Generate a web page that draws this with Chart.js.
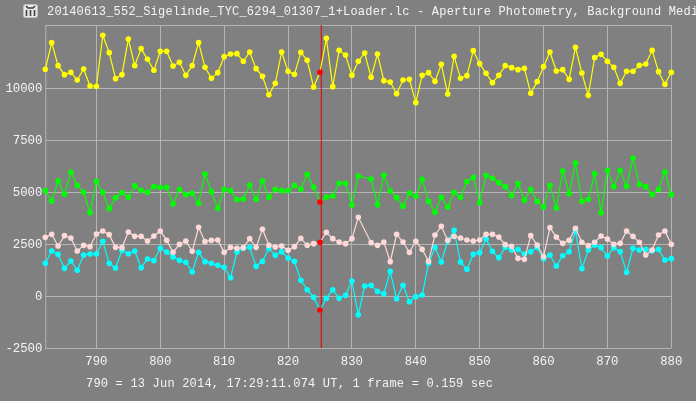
<!DOCTYPE html>
<html>
<head>
<meta charset="utf-8">
<title>Aperture Photometry</title>
<script src="https://cdn.jsdelivr.net/npm/chart.js@4/dist/chart.umd.min.js"></script>
<style>
    html, body { margin: 0; padding: 0; background: #808080; overflow: hidden; }
    #wrap { position: relative; width: 696px; height: 401px; overflow: hidden; }
    #lightcurve { position: absolute; left: 0; top: 0; }
    .label {
        position: absolute;
        color: #f4f4f4;
        font: 12px "Liberation Mono", monospace;
        letter-spacing: 0.2px;
        white-space: nowrap;
        line-height: 14px;
    }
    #plotTitle { left: 47px; top: 5px; }
    #plotFooter { left: 86px; top: 377px; }
    #icon { position: absolute; left: 23px; top: 4px; }
</style>
</head>
<body>
<div id="wrap">
    <canvas id="lightcurve" width="696" height="401"></canvas>
    <svg id="icon" width="15" height="14" viewBox="0 0 15 14">
        <rect x="0.5" y="0.5" width="14" height="13" rx="2" fill="#e8e8e8" stroke="#c0c0c0"/>
        <path d="M3 2 L5 4 L10 4 L12 2 M3.5 6 L3.5 12 M7.5 6 L7.5 12 M11.5 6 L11.5 12" stroke="#404040" stroke-width="1.6" fill="none"/>
    </svg>
    <div id="plotTitle" class="label">20140613_552_Sigelinde_TYC_6294_01307_1+Loader.lc - Aperture Photometry, Background Medi</div>
    <div id="plotFooter" class="label">790 = 13 Jun 2014, 17:29:11.074 UT, 1 frame = 0.159 sec</div>
</div>
<script>
// First frame of every series, the values are one per frame from here
var firstFrame = 782;
var cursorFrame = 825;

// Target star + comparison star
var yellow = [10912, 12194, 11088, 10655, 10767, 10399, 10928, 10110, 10094, 12547,
    11713, 10463, 10655, 12370, 11088, 11906, 11393, 10864, 11777, 11777,
    11072, 11248, 10623, 11088, 12194, 11008, 10479, 10751, 11521, 11649,
    11665, 11296, 11745, 10944, 10575, 9693, 10238, 11745, 10816, 10671,
    11729, 11345, 10062, 10767, 12403, 10078, 11825, 11601, 10623, 11296,
    11697, 10527, 11649, 10367, 10303, 9742, 10399, 10431, 9309, 10623,
    10751, 10335, 11152, 9726, 11537, 10479, 10607, 11809, 11184, 10719,
    10271, 10623, 11088, 10992, 10896, 10960, 9758, 10319, 11040, 11745,
    10832, 10896, 10431, 11970, 10735, 9661, 11473, 11633, 11296, 11008,
    10238, 10816, 10816, 11104, 11168, 11825, 10800, 10190, 10767];

var green = [5078, 4581, 5543, 4902, 5960, 5335, 4998, 4020, 5527, 4998,
    4213, 4742, 4982, 4758, 5319, 5094, 4998, 5271, 5239, 5239,
    4437, 5142, 4886, 4950, 4469, 5880, 5030, 4229, 5142, 5078,
    4646, 4678, 5351, 4662, 5543, 4758, 5142, 5078, 5078, 5335,
    5142, 5864, 5255, 4533, 4774, 4822, 5431, 5431, 4389, 5784,
    null, 5639, 4405, 5832, 5062, 4742, 4325, 4966, 4806, 5623,
    4565, 4036, 4758, 4293, 4998, 4758, 5511, 5720, 4501, 5816,
    5671, 5463, 5271, 4838, 5415, 4613, 5142, 4565, 4293, 5335,
    4245, 6024, 4934, 6409, 4565, 4662, 5896, 4020, 6056, 5271,
    6056, 5287, 6649, 5383, 5271, 4886, 5142, 5976, 4886];

var pink = [2835, 2979, 2418, 2915, 2803, 2178, 2450, 2386, 2995, 3140,
    2963, 2354, 2338, 3091, 2883, 2883, 2659, 2899, 3140, 2691,
    2114, 2498, 2659, 2162, 3316, 2627, 2691, 2707, 2114, 2354,
    2306, 2338, 2771, 2354, 3220, 2450, 2370, 2418, 2210, 2386,
    2787, 2450, 2530, 2595, 3075, 2771, 2611, 2530, 2771, 3797,
    null, 2579, 2450, 2611, 1665, 2979, 2611, 2114, 2643, 2258,
    1681, 2947, 3364, 2691, 2883, 2803, 2707, 2659, 2707, 2979,
    2979, 2851, 2482, 2402, 1825, 1777, 2915, 2466, 1905, 3300,
    2851, 2546, 2691, 3268, 2595, 2434, 2595, 2899, 2755, 2498,
    2546, 3140, 2883, 2595, 1985, 2226, 2947, 3140, 2498];

var cyan = [1585, 2178, 2017, 1344, 1697, 1248, 1985, 2033, 2033, 2643,
    1585, 1360, 2210, 2049, 2178, 1376, 1793, 1713, 2306, 2130,
    1889, 1729, 1633, 1168, 2114, 1665, 1585, 1488, 1392, 895,
    2130, 2306, 2354, 1440, 1681, 2306, 1969, 2146, 1841, 1681,
    767, 318, -50, -660, -99, 318, -99, 46, 735, -884,
    495, 527, 238, 126, 1200, -115, 527, -259, -18, 62,
    1585, 2354, 1649, 2659, 3172, 1649, 1296, 2017, 2098, 2755,
    2162, 1857, 2354, 2226, 2258, 2033, 2146, 2354, 1809, 1985,
    1456, 1953, 2146, 3140, 1328, 2226, 2466, 2338, 1937, 2338,
    2146, 1152, 2306, 2226, 2258, 2178, 2258, 1745, 1809];

var yMin = -2500;
var yMax = 13043;
var yTicks = [-2500, 0, 2500, 5000, 7500, 10000];

function makeSeries(values, color, order) {
    return {
        label: color,
        data: values.map(function (v, i) { return { x: firstFrame + i, y: v }; }),
        borderColor: color,
        borderWidth: 1.2,
        pointRadius: 2.8,
        pointHoverRadius: 2.8,
        pointBorderWidth: 0,
        pointBackgroundColor: function (ctx) {
            // the cursor frame is marked in red on every curve
            return ctx.raw && ctx.raw.x === cursorFrame ? '#ff0000' : color;
        },
        spanGaps: true,
        tension: 0,
        clip: false,
        order: order
    };
}

// the top line of the frame has no tick to hang on
var frameLine = {
    id: 'frameLine',
    beforeDatasetsDraw: function (chart) {
        var a = chart.chartArea, c = chart.ctx;
        c.save();
        c.strokeStyle = '#b4b4b4';
        c.lineWidth = 1;
        c.beginPath();
        c.moveTo(a.left, a.top + 0.5);
        c.lineTo(a.right, a.top + 0.5);
        c.moveTo(a.left + 0.5, a.top);
        c.lineTo(a.left + 0.5, a.bottom);
        c.stroke();
        c.restore();
    }
};

var tickFont = { family: '"Liberation Mono", monospace', size: 12.3 };

new Chart(document.getElementById('lightcurve'), {
    type: 'line',
    data: {
        datasets: [
            makeSeries(yellow, '#ffff00', 1),
            makeSeries(green, '#00ff00', 2),
            makeSeries(pink, '#ffd8d8', 3),
            makeSeries(cyan, '#00ffff', 4),
            {
                label: 'cursor',
                data: [{ x: 825.2, y: yMin }, { x: 825.2, y: yMax }],
                borderColor: '#e00000',
                borderWidth: 1,
                pointRadius: 0,
                order: 5
            }
        ]
    },
    options: {
        responsive: false,
        animation: false,
        devicePixelRatio: 1,
        layout: { padding: { left: 0, right: 24.7, top: 25, bottom: 0 } },
        plugins: { legend: { display: false }, tooltip: { enabled: false } },
        scales: {
            x: {
                type: 'linear',
                min: firstFrame,
                max: 880,
                afterFit: function (scale) { scale.height = 52.7; },
                grid: { color: '#b4b4b4', lineWidth: 1, drawTicks: false },
                border: { display: false },
                ticks: {
                    stepSize: 10,
                    includeBounds: false,
                    color: '#f4f4f4',
                    font: tickFont,
                    padding: 6,
                    maxRotation: 0,
                    callback: function (v) { return String(v); }
                }
            },
            y: {
                min: yMin,
                max: yMax,
                afterBuildTicks: function (scale) {
                    scale.ticks = yTicks.map(function (v) { return { value: v }; });
                },
                afterFit: function (scale) { scale.width = 45.3; },
                grid: { color: '#b4b4b4', lineWidth: 1, drawTicks: false },
                border: { display: false },
                ticks: {
                    color: '#f4f4f4',
                    font: tickFont,
                    padding: 3,
                    callback: function (v) { return String(v); }
                }
            }
        }
    },
    plugins: [frameLine]
});
</script>
</body>
</html>
